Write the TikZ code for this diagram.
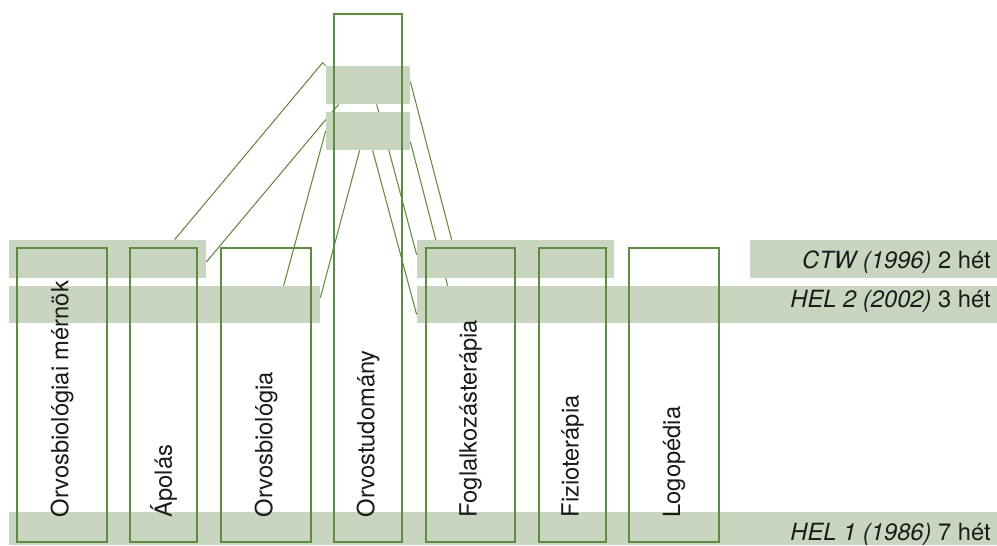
\documentclass[tikz,border=0pt]{standalone}
\usepackage{fontspec}
\setmainfont{TeX Gyre Heros}
\usetikzlibrary{calc,positioning}
\definecolor{bandfill}{HTML}{C8D5BF}
\definecolor{leaf}{HTML}{5F8A42}
\definecolor{ink}{HTML}{1A1A1A}
\pgfdeclarelayer{behind}
\pgfsetlayers{behind,main}
\tikzset{
  band/.style={fill=bandfill,draw=none,inner sep=0pt,minimum height=0.76cm},
  colbox/.style={draw=leaf,line width=0.85pt,inner sep=0pt,minimum height=5.88cm},
  collabel/.style={rotate=90,anchor=west,inner sep=0pt,text=ink,
                   font=\fontsize{13.5}{16}\selectfont},
  yearlabel/.style={anchor=base east,inner sep=0pt,text=ink,
                    font=\fontsize{13.5}{16}\selectfont},
  link/.style={draw=leaf,line width=0.6pt}
}
\begin{document}
\begin{tikzpicture}[x=1cm,y=1cm]
    \useasboundingbox (0,0) rectangle (19.94,10.90);
    % bands of the three programmes
    \node[band,minimum width=3.94cm] (ctwA) at (2.15,5.72) {};
    \node[band,minimum width=3.94cm] (ctwB) at (10.31,5.72) {};
    \node[band,minimum width=4.94cm] (ctwC) at (17.47,5.72) {};
    \node[band,minimum width=6.22cm,minimum height=0.74cm] (helA) at (3.29,4.81) {};
    \node[band,minimum width=11.60cm,minimum height=0.74cm] (helB) at (14.14,4.81) {};
    \node[band,minimum width=19.76cm,minimum height=0.66cm] (helC) at (10.06,0.33) {};
    \node[band,minimum width=1.68cm] (topA) at (7.36,9.20) {};
    \node[band,minimum width=1.68cm] (topB) at (7.36,8.28) {};
    % columns
    \node[colbox,minimum width=1.80cm] (mernok) at (1.24,3.00) {};
    \node[colbox,minimum width=1.34cm] (apolas) at (3.27,3.00) {};
    \node[colbox,minimum width=1.80cm] (biologia) at (5.32,3.00) {};
    \node[colbox,minimum width=1.36cm,minimum height=10.56cm] (orvos) at (7.36,5.34) {};
    \node[colbox,minimum width=1.78cm] (foglalk) at (9.41,3.00) {};
    \node[colbox,minimum width=1.34cm] (fizio) at (11.45,3.00) {};
    \node[colbox,minimum width=1.80cm] (logo) at (13.48,3.00) {};
    \foreach \c/\t in {mernok/Orvosbiológiai mérnök, apolas/Ápolás,
                       biologia/Orvosbiológia, orvos/Orvostudomány,
                       foglalk/Foglalkozásterápia, fizio/Fizioterápia,
                       logo/Logopédia}{
      \node[collabel] (\c-t) at ($(\c.south)+(0,0.50)$) {\t};
    }
    \node[yearlabel] (ctw-t) at (19.82,5.54) {\textit{CTW (1996)} 2 hét};
    \node[yearlabel] (helii-t) at (19.82,4.76) {\textit{HEL 2 (2002)} 3 hét};
    \node[yearlabel] (heli-t) at (19.82,0.10) {\textit{HEL 1 (1986)} 7 hét};
    % links behind the bands
    \begin{pgfonlayer}{behind}
      \coordinate (kink) at ($(topA.north west)+(-0.06,0.06)$);
      \draw[link] ($(ctwA.north west)+(3.32,0)$) -- (kink) -- (topA.north west);
      \draw[link] ($(ctwA.east)+(0,-0.06)$) -- ($(topA.south west)+(0.26,0)$);
      \draw[link] ($(helA.north west)+(5.50,0)$) -- (topB.west);
      \draw[link] ($(helA.north east)+(0,-0.24)$) -- ($(topB.south west)+(0.68,0)$);
      \draw[link] ($(topA.south west)+(1.02,0)$) -- ($(ctwB.north west)+(0,-0.30)$);
      \draw[link] ($(topB.south west)+(0.94,0)$) -- ($(helB.north west)+(0,-0.58)$);
      \draw[link] ($(topA.north east)+(0,-0.32)$) -- ($(ctwB.north west)+(0.70,0)$);
      \draw[link] ($(topB.north east)+(0,-0.60)$) -- ($(helB.north west)+(0.62,0)$);
    \end{pgfonlayer}
\end{tikzpicture}
\end{document}
